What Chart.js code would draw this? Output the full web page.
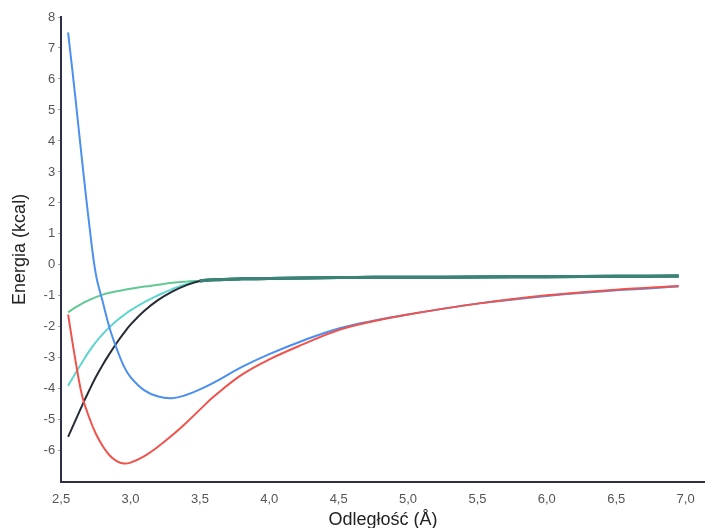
<!DOCTYPE html>
<html>
<head>
<meta charset="utf-8">
<script src="https://cdn.jsdelivr.net/npm/chart.js@4/dist/chart.umd.min.js"></script>
<style>
  html, body { margin: 0; padding: 0; background: #fff; }
  #wrap { width: 705px; height: 528px; }
</style>
</head>
<body>
<div id="wrap"><canvas id="myChart" width="705" height="528"></canvas></div>
<script>
// distance grid (A)
var distance = [2.55, 2.6, 2.65, 2.7, 2.75, 2.8, 2.85, 2.9, 2.95, 3.0, 3.1, 3.2, 3.3, 3.4, 3.5,
  3.6, 3.8, 4.0, 4.25, 4.5, 4.75, 5.0, 5.5, 6.0, 6.5, 6.95];

// energies (kcal)
var redEnergy = [-1.6, -3.0, -4.2, -4.9, -5.45, -5.85, -6.15, -6.33, -6.41, -6.38, -6.17, -5.86, -5.5, -5.1, -4.67,
  -4.25, -3.55, -3.05, -2.55, -2.1, -1.82, -1.6, -1.25, -0.98, -0.8, -0.68];
var blueEnergy = [7.5, 5.5, 3.4, 1.4, -0.3, -1.2, -2.05, -2.7, -3.25, -3.62, -4.05, -4.25, -4.3, -4.2, -4.02,
  -3.8, -3.3, -2.88, -2.43, -2.05, -1.8, -1.6, -1.25, -1.0, -0.82, -0.7];
var blackEnergy = [-5.55, -5.05, -4.55, -4.07, -3.62, -3.22, -2.86, -2.52, -2.21, -1.93, -1.48, -1.13, -0.86, -0.66, -0.52,
  -0.48, -0.45, -0.44, -0.42, -0.41, -0.4, -0.4, -0.39, -0.38, -0.37, -0.36];
var cyanEnergy = [-3.9, -3.52, -3.15, -2.8, -2.49, -2.23, -2.0, -1.8, -1.63, -1.47, -1.2, -0.98, -0.78, -0.62, -0.52,
  -0.48, -0.45, -0.44, -0.42, -0.41, -0.4, -0.4, -0.39, -0.38, -0.37, -0.36];
var greenEnergy = [-1.53, -1.38, -1.25, -1.14, -1.04, -0.96, -0.9, -0.85, -0.81, -0.77, -0.7, -0.64, -0.58, -0.54, -0.51,
  -0.48, -0.45, -0.44, -0.42, -0.41, -0.4, -0.4, -0.39, -0.38, -0.37, -0.36];

var xTicks = [2.5, 3.0, 3.5, 4.0, 4.5, 5.0, 5.5, 6.0, 6.5, 7.0];
var yTicks = [-6, -5, -4, -3, -2, -1, 0, 1, 2, 3, 4, 5, 6, 7, 8];

var tailColor = '#3b8376';

function points(ys) {
  return distance.map(function(d, i) { return { x: d, y: ys[i] }; });
}

function series(label, ys, color, tail) {
  var ds = {
    label: label,
    data: points(ys),
    borderColor: color,
    borderWidth: 2,
    pointRadius: 0,
    fill: false,
    tension: 0.4
  };
  if (tail) {
    ds.segment = {
      borderColor: function(c) { return c.p0.parsed.x >= 3.5 ? tailColor : undefined; },
      borderWidth: function(c) { return c.p0.parsed.x >= 3.5 ? 3 : undefined; }
    };
  }
  return ds;
}

const ctx = document.getElementById('myChart');

new Chart(ctx, {
  type: 'line',
  data: {
    datasets: [
      series('red', redEnergy, '#f0524c', false),
      series('blue', blueEnergy, '#4b8ff0', false),
      series('black', blackEnergy, '#252c35', true),
      series('cyan', cyanEnergy, '#5ed6cf', true),
      series('green', greenEnergy, '#62c994', true)
    ]
  },
  options: {
    responsive: false,
    animation: false,
    layout: { padding: { top: 17, right: 0, left: 9, bottom: -3 } },
    plugins: {
      legend: { display: false },
      tooltip: { enabled: false }
    },
    scales: {
      x: {
        type: 'linear',
        min: 2.5,
        max: 7.14,
        afterBuildTicks: function(axis) {
          axis.ticks = xTicks.map(function(v) { return { value: v }; });
        },
        grid: { display: false },
        border: { display: true, color: '#2c2f45', width: 2 },
        ticks: {
          color: '#555',
          font: { family: 'Liberation Sans, Arial', size: 13 },
          padding: 2,
          callback: function(v) { return v.toFixed(1).replace('.', ','); }
        },
        title: {
          display: true,
          text: 'Odległość (Å)',
          color: '#222',
          font: { family: 'Liberation Sans, Arial', size: 18 },
          padding: { top: 0, bottom: 0 }
        }
      },
      y: {
        min: -7,
        max: 8,
        afterBuildTicks: function(axis) {
          axis.ticks = yTicks.map(function(v) { return { value: v }; });
        },
        grid: { display: true, drawOnChartArea: false, tickLength: 3, color: '#999' },
        border: { display: true, color: '#2c2f45', width: 2 },
        ticks: {
          color: '#555',
          font: { family: 'Liberation Sans, Arial', size: 13 },
          padding: 3
        },
        title: {
          display: true,
          text: 'Energia (kcal)',
          color: '#222',
          font: { family: 'Liberation Sans, Arial', size: 18 },
          padding: { top: 0, bottom: 10 }
        }
      }
    }
  }
});
</script>
</body>
</html>
